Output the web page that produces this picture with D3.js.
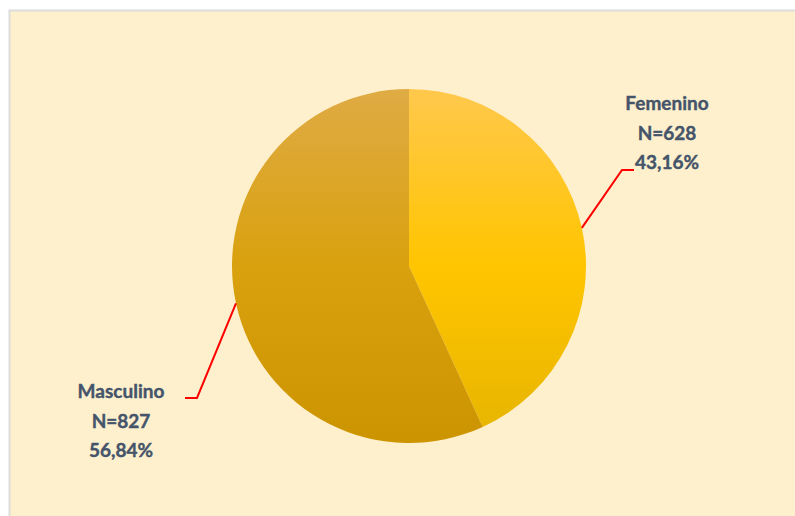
<!DOCTYPE html>
<html>
<head>
<meta charset="utf-8">
<script src="https://cdn.jsdelivr.net/npm/d3@7/dist/d3.min.js"></script>
<style>
  html, body { margin: 0; padding: 0; background: #ffffff; }
  svg { display: block; }
</style>
</head>
<body>
<svg id="chart" width="795" height="516"></svg>
<script>
// Sex distribution of the sample
const categories = ["Femenino", "Masculino"];
const counts = [628, 827];
const percents = ["43,16%", "56,84%"];

const W = 795, H = 516;
const svg = d3.select("#chart");

// Frame and cream plot background
svg.append("rect").attr("x", 9.5).attr("y", 10.5).attr("width", W).attr("height", H)
  .attr("fill", "#fff0cd").attr("stroke", "#dcdcdc").attr("stroke-width", 2);

const cx = 409, cy = 266, R = 177;

// Vertical gradient for each slice, spanning the whole pie
const defs = svg.append("defs");
const gradStops = [
  [["0%", "#ffc84c"], ["50%", "#ffc500"], ["100%", "#e6b400"]],
  [["0%", "#dfab44"], ["50%", "#d9a10e"], ["100%", "#cc9400"]]
];
gradStops.forEach((stops, i) => {
  const g = defs.append("linearGradient").attr("id", "grad" + i)
    .attr("gradientUnits", "userSpaceOnUse")
    .attr("x1", 0).attr("y1", -R).attr("x2", 0).attr("y2", R);
  stops.forEach(s => g.append("stop").attr("offset", s[0]).attr("stop-color", s[1]));
});

const pie = d3.pie().sort(null).value(d => d)(counts);
const arc = d3.arc().innerRadius(0).outerRadius(R);

const g = svg.append("g").attr("transform", `translate(${cx},${cy})`);
g.selectAll("path").data(pie).join("path")
  .attr("d", arc)
  .attr("fill", (d, i) => `url(#grad${i})`);

// Leader lines: from a point on the slice rim, via an elbow, to the label
const rimAngles = [1.354, -1.783];          // radians, clockwise from 12 o'clock
const elbows = [[[622, 170], [634, 170]], [[197, 398], [185, 398]]];
pie.forEach((d, i) => {
  const a = rimAngles[i];
  const start = [cx + R * Math.sin(a), cy - R * Math.cos(a)];
  svg.append("polyline")
    .attr("points", [start, ...elbows[i]].map(q => q.join(",")).join(" "))
    .attr("fill", "none").attr("stroke", "#ff0000").attr("stroke-width", 2);
});

// Labels
const labelPos = [[667, 103], [121, 391]];
categories.forEach((c, i) => {
  const lines = [c, "N=" + counts[i], percents[i]];
  const t = svg.append("text")
    .attr("text-anchor", "middle")
    .attr("font-family", "Lato, 'Open Sans', sans-serif")
    .attr("font-weight", "bold")
    .attr("font-size", 19)
    .attr("fill", "#44546a")
    .attr("stroke", "#44546a")
    .attr("stroke-width", 0.4);
  lines.forEach((l, j) => {
    t.append("tspan").attr("x", labelPos[i][0]).attr("y", labelPos[i][1] + j * 29.5 + 7).text(l);
  });
});
</script>
</body>
</html>
